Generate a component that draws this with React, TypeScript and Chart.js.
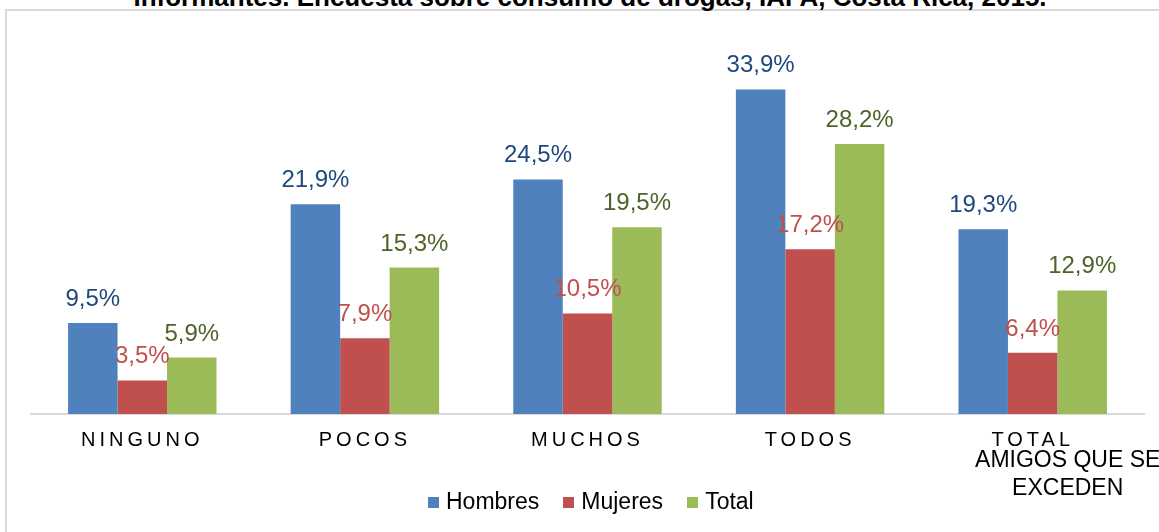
import React, { useEffect, useRef } from "react";
import { Chart, registerables } from "chart.js";

Chart.register(...registerables);

const titleText = "Informantes. Encuesta sobre consumo de drogas, IAFA, Costa Rica, 2015.";
const categories = ["NINGUNO", "POCOS", "MUCHOS", "TODOS", "TOTAL"];
const lastCategoryNote = ["AMIGOS QUE SE", "EXCEDEN"];
const seriesNames = ["Hombres", "Mujeres", "Total"];
const hombres = [9.5, 21.9, 24.5, 33.9, 19.3];
const mujeres = [3.5, 7.9, 10.5, 17.2, 6.4];
const total = [5.9, 15.3, 19.5, 28.2, 12.9];
const barColors = ["#4f81bd", "#c0504d", "#9bbb59"];
const labelColors = ["#1f497d", "#c0504d", "#4f6228"];
const yMin = 0;
const yMax = 40;

const FONT = '"Liberation Sans", Arial, sans-serif';

const tickSpacingPlugin = {
  id: "tickSpacing",
  beforeDraw(chart: any) {
    (chart.ctx as any).letterSpacing = "4px";
  },
  beforeDatasetsDraw(chart: any) {
    (chart.ctx as any).letterSpacing = "0px";
  },
};

const valueLabelPlugin = {
  id: "valueLabels",
  afterDatasetsDraw(chart: any) {
    const ctx = chart.ctx as CanvasRenderingContext2D;
    ctx.save();
    (ctx as any).letterSpacing = "0px";
    ctx.font = `24px ${FONT}`;
    ctx.textAlign = "center";
    ctx.textBaseline = "alphabetic";
    chart.data.datasets.forEach((ds: any, i: number) => {
      const meta = chart.getDatasetMeta(i);
      ctx.fillStyle = labelColors[i];
      meta.data.forEach((el: any, j: number) => {
        const v = ds.data[j] as number;
        ctx.fillText(v.toFixed(1).replace(".", ",") + "%", el.x, el.y - 17);
      });
    });
    const xs = chart.scales.x;
    const cx = xs.getPixelForValue(categories.length - 1) + 35;
    ctx.fillStyle = "#000";
    ctx.font = `23px ${FONT}`;
    lastCategoryNote.forEach((line, k) => {
      ctx.fillText(line, cx, xs.top + 53 + k * 28);
    });
    ctx.restore();
  },
};

export default function App() {
  const canvasRef = useRef<HTMLCanvasElement | null>(null);

  useEffect(() => {
    if (!canvasRef.current) return;
    const chart = new Chart(canvasRef.current, {
      type: "bar",
      data: {
        labels: categories,
        datasets: [hombres, mujeres, total].map((d, i) => ({
          label: seriesNames[i],
          data: d,
          backgroundColor: barColors[i],
          borderWidth: 0,
          categoryPercentage: 0.667,
          barPercentage: 1,
        })),
      },
      options: {
        animation: false,
        responsive: true,
        maintainAspectRatio: false,
        layout: { padding: { left: 31, right: 15, top: 31, bottom: 78 } },
        plugins: {
          legend: { display: false },
          title: { display: false },
          tooltip: { enabled: false },
        },
        scales: {
          x: {
            grid: { display: false, drawTicks: false },
            border: { display: true, color: "#d9d9d9", width: 2 },
            ticks: {
              color: "#000",
              font: { family: FONT, size: 20 },
              padding: 14,
              maxRotation: 0,
              autoSkip: false,
            },
            afterFit: (scale: any) => {
              scale.height = 40;
            },
          },
          y: {
            display: false,
            min: yMin,
            max: yMax,
          },
        },
      },
      plugins: [tickSpacingPlugin, valueLabelPlugin],
    });
    return () => chart.destroy();
  }, []);

  return (
    <div
      style={{
        position: "fixed",
        left: 0,
        top: 0,
        width: 1159,
        height: 532,
        overflow: "hidden",
        background: "#fff",
        fontFamily: FONT,
      }}
    >
      <div
        style={{
          position: "absolute",
          left: 5,
          top: 9,
          width: 2000,
          height: 2000,
          border: "2px solid #d9d9d9",
          boxSizing: "border-box",
        }}
      />
      <div
        style={{
          position: "absolute",
          left: 590,
          top: -16,
          transform: "translateX(-50%)",
          whiteSpace: "nowrap",
          fontWeight: "bold",
          fontSize: 26,
          lineHeight: "26px",
          color: "#000",
        }}
      >
        {titleText}
      </div>
      <div style={{ position: "absolute", left: 0, top: 0, width: 1159, height: 532 }}>
        <canvas ref={canvasRef} />
      </div>
      <div
        style={{
          position: "absolute",
          left: 428,
          top: 490,
          display: "flex",
          alignItems: "center",
          fontSize: 23,
          lineHeight: "23px",
          color: "#000",
          whiteSpace: "nowrap",
        }}
      >
        {seriesNames.map((name, i) => (
          <div key={name} style={{ display: "flex", alignItems: "center", marginRight: 24 }}>
            <span
              style={{
                display: "inline-block",
                width: 11,
                height: 11,
                background: barColors[i],
                marginRight: 7,
                marginTop: 2,
              }}
            />
            <span>{name}</span>
          </div>
        ))}
      </div>
    </div>
  );
}
